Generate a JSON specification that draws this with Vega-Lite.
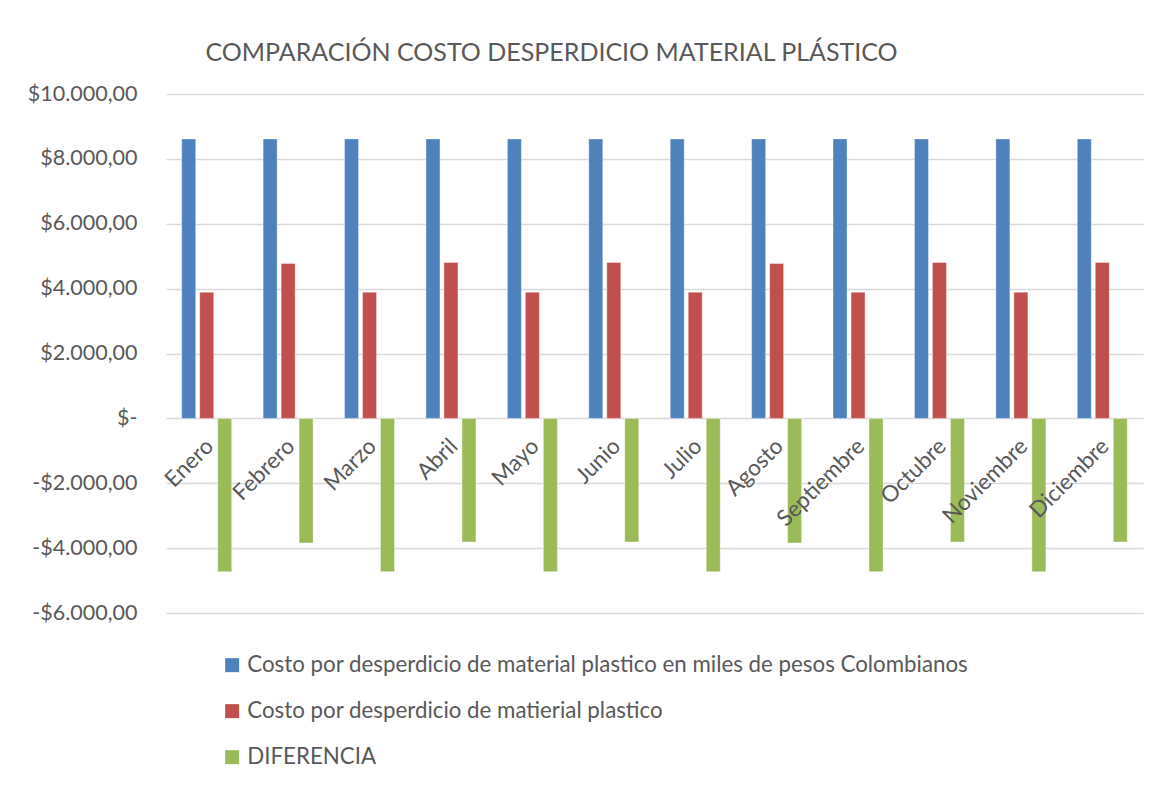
{
  "$schema": "https://vega.github.io/schema/vega-lite/v6.json",
  "autosize": {"type": "none"},
  "width": 977,
  "height": 519,
  "padding": {"left": 166, "top": 94, "right": 28, "bottom": 174},
  "background": "#ffffff",
  "title": {
    "text": "COMPARACIÓN COSTO DESPERDICIO MATERIAL PLÁSTICO",
    "anchor": "middle",
    "frame": "group",
    "dx": -103,
    "baseline": "alphabetic",
    "offset": -3,
    "font": "Lato",
    "fontSize": 25,
    "fontWeight": 400,
    "color": "#595959"
  },
  "data": {
    "values": [
      {"mes": "Enero", "serie": "Costo por desperdicio de material plastico en miles de pesos Colombianos", "valor": 8615},
      {"mes": "Enero", "serie": "Costo por desperdicio de matierial plastico", "valor": 3890},
      {"mes": "Enero", "serie": "DIFERENCIA", "valor": -4725},
      {"mes": "Febrero", "serie": "Costo por desperdicio de material plastico en miles de pesos Colombianos", "valor": 8615},
      {"mes": "Febrero", "serie": "Costo por desperdicio de matierial plastico", "valor": 4775},
      {"mes": "Febrero", "serie": "DIFERENCIA", "valor": -3840},
      {"mes": "Marzo", "serie": "Costo por desperdicio de material plastico en miles de pesos Colombianos", "valor": 8615},
      {"mes": "Marzo", "serie": "Costo por desperdicio de matierial plastico", "valor": 3890},
      {"mes": "Marzo", "serie": "DIFERENCIA", "valor": -4725},
      {"mes": "Abril", "serie": "Costo por desperdicio de material plastico en miles de pesos Colombianos", "valor": 8615},
      {"mes": "Abril", "serie": "Costo por desperdicio de matierial plastico", "valor": 4805},
      {"mes": "Abril", "serie": "DIFERENCIA", "valor": -3810},
      {"mes": "Mayo", "serie": "Costo por desperdicio de material plastico en miles de pesos Colombianos", "valor": 8615},
      {"mes": "Mayo", "serie": "Costo por desperdicio de matierial plastico", "valor": 3890},
      {"mes": "Mayo", "serie": "DIFERENCIA", "valor": -4725},
      {"mes": "Junio", "serie": "Costo por desperdicio de material plastico en miles de pesos Colombianos", "valor": 8615},
      {"mes": "Junio", "serie": "Costo por desperdicio de matierial plastico", "valor": 4805},
      {"mes": "Junio", "serie": "DIFERENCIA", "valor": -3810},
      {"mes": "Julio", "serie": "Costo por desperdicio de material plastico en miles de pesos Colombianos", "valor": 8615},
      {"mes": "Julio", "serie": "Costo por desperdicio de matierial plastico", "valor": 3890},
      {"mes": "Julio", "serie": "DIFERENCIA", "valor": -4725},
      {"mes": "Agosto", "serie": "Costo por desperdicio de material plastico en miles de pesos Colombianos", "valor": 8615},
      {"mes": "Agosto", "serie": "Costo por desperdicio de matierial plastico", "valor": 4775},
      {"mes": "Agosto", "serie": "DIFERENCIA", "valor": -3840},
      {"mes": "Septiembre", "serie": "Costo por desperdicio de material plastico en miles de pesos Colombianos", "valor": 8615},
      {"mes": "Septiembre", "serie": "Costo por desperdicio de matierial plastico", "valor": 3890},
      {"mes": "Septiembre", "serie": "DIFERENCIA", "valor": -4725},
      {"mes": "Octubre", "serie": "Costo por desperdicio de material plastico en miles de pesos Colombianos", "valor": 8615},
      {"mes": "Octubre", "serie": "Costo por desperdicio de matierial plastico", "valor": 4805},
      {"mes": "Octubre", "serie": "DIFERENCIA", "valor": -3810},
      {"mes": "Noviembre", "serie": "Costo por desperdicio de material plastico en miles de pesos Colombianos", "valor": 8615},
      {"mes": "Noviembre", "serie": "Costo por desperdicio de matierial plastico", "valor": 3890},
      {"mes": "Noviembre", "serie": "DIFERENCIA", "valor": -4725},
      {"mes": "Diciembre", "serie": "Costo por desperdicio de material plastico en miles de pesos Colombianos", "valor": 8615},
      {"mes": "Diciembre", "serie": "Costo por desperdicio de matierial plastico", "valor": 4805},
      {"mes": "Diciembre", "serie": "DIFERENCIA", "valor": -3810}
    ]
  },
  "mark": {"type": "bar", "stroke": "#ffffff", "strokeWidth": 0.75, "strokeOpacity": 0.5},
  "encoding": {
    "x": {
      "field": "mes",
      "type": "nominal",
      "sort": null,
      "title": null,
      "scale": {"paddingInner": 0.386, "paddingOuter": 0.193},
      "axis": {
        "orient": "bottom",
        "offset": -194.7,
        "zindex": 1,
        "domain": false,
        "ticks": false,
        "grid": false,
        "labelAngle": -45,
        "labelAlign": "right",
        "labelBaseline": "middle",
        "labelPadding": 24,
        "labelOffset": 3,
        "labelFont": "Lato",
        "labelFontSize": 22.5,
        "labelColor": "#595959",
        "labelOverlap": false
      }
    },
    "xOffset": {
      "field": "serie",
      "type": "nominal",
      "sort": [
        "Costo por desperdicio de material plastico en miles de pesos Colombianos",
        "Costo por desperdicio de matierial plastico",
        "DIFERENCIA"
      ],
      "scale": {"paddingInner": 0.222, "paddingOuter": 0}
    },
    "y": {
      "field": "valor",
      "type": "quantitative",
      "title": null,
      "scale": {"domain": [-6000, 10000], "nice": false, "zero": true},
      "axis": {
        "values": [-6000, -4000, -2000, 0, 2000, 4000, 6000, 8000, 10000],
        "domain": false,
        "ticks": false,
        "grid": true,
        "gridColor": "#d9d9d9",
        "gridWidth": 1.3,
        "labelPadding": 29,
        "labelFont": "Lato",
        "labelFontSize": 21.5,
        "labelColor": "#595959",
        "labelBaseline": "middle",
        "labelExpr": "datum.value == 0 ? '$-' : (datum.value < 0 ? '-$' : '$') + replace(replace(replace(format(abs(datum.value), ',.2f'), ',', 'T'), '.', ','), 'T', '.')"
      }
    },
    "color": {
      "field": "serie",
      "type": "nominal",
      "title": null,
      "scale": {
        "domain": [
          "Costo por desperdicio de material plastico en miles de pesos Colombianos",
          "Costo por desperdicio de matierial plastico",
          "DIFERENCIA"
        ],
        "range": ["#4F81BD", "#C0504D", "#9BBB59"]
      },
      "legend": {
        "orient": "none",
        "legendX": 55,
        "legendY": 560,
        "direction": "vertical",
        "symbolType": "square",
        "symbolSize": 196,
        "symbolStrokeWidth": 0,
        "labelFont": "Lato",
        "labelFontSize": 22.3,
        "labelColor": "#595959",
        "labelOffset": 4,
        "labelLimit": 1000,
        "rowPadding": 23
      }
    }
  },
  "config": {
    "view": {"stroke": null},
    "font": "Lato"
  }
}
